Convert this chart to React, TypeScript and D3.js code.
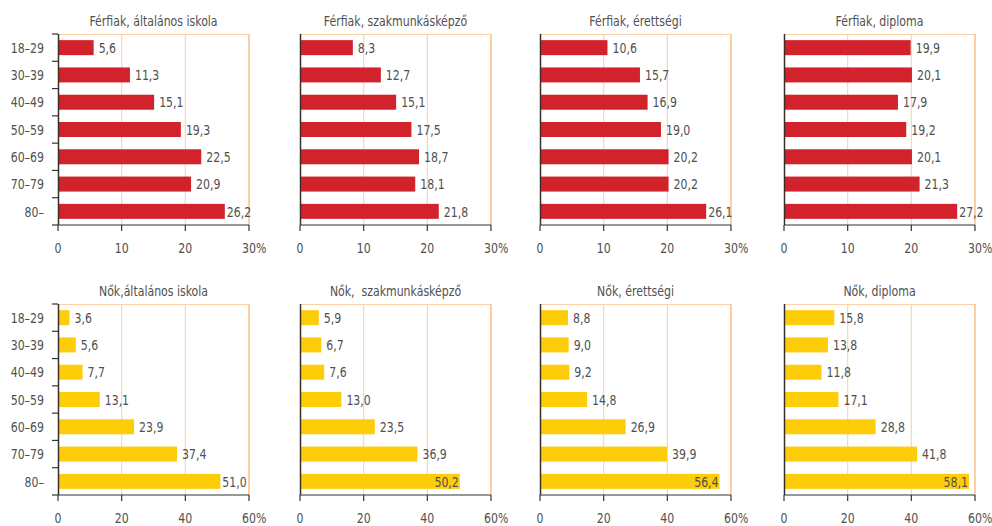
import React, { useEffect, useRef } from 'react';
import * as d3 from 'd3';

// Data
const ageGroups = ['18–29', '30–39', '40–49', '50–59', '60–69', '70–79', '80–'];

const titles = [
  'Férfiak, általános iskola',
  'Férfiak, szakmunkásképző',
  'Férfiak, érettségi',
  'Férfiak, diploma',
  'Nők,általános iskola',
  'Nők,  szakmunkásképző',
  'Nők, érettségi',
  'Nők, diploma'
];

const menPrimary = [5.6, 11.3, 15.1, 19.3, 22.5, 20.9, 26.2];
const menVocational = [8.3, 12.7, 15.1, 17.5, 18.7, 18.1, 21.8];
const menSecondary = [10.6, 15.7, 16.9, 19.0, 20.2, 20.2, 26.1];
const menDiploma = [19.9, 20.1, 17.9, 19.2, 20.1, 21.3, 27.2];
const womenPrimary = [3.6, 5.6, 7.7, 13.1, 23.9, 37.4, 51.0];
const womenVocational = [5.9, 6.7, 7.6, 13.0, 23.5, 36.9, 50.2];
const womenSecondary = [8.8, 9.0, 9.2, 14.8, 26.9, 39.9, 56.4];
const womenDiploma = [15.8, 13.8, 11.8, 17.1, 28.8, 41.8, 58.1];

const menTicks = [0, 10, 20, 30];
const womenTicks = [0, 20, 40, 60];

// value labels drawn inside the bar end: [panel, row]
const insideLabels = [[5, 6], [6, 6], [7, 6]];

const series = [
  menPrimary, menVocational, menSecondary, menDiploma,
  womenPrimary, womenVocational, womenSecondary, womenDiploma
];

const FONT = "'DejaVu Sans Condensed', 'DejaVu Sans', sans-serif";
const TEXT = '#505050';
const SQUEEZE = 0.84; // the original font is narrower than anything installed

const App = () => {
  const chartRef = useRef<SVGSVGElement>(null);

  useEffect(() => {
    const svg = d3.select(chartRef.current);
    svg.selectAll('*').remove();

    const panelX = [58, 300, 540, 784];
    const panelY = [34, 304];
    const width = 191;
    const height = 191;

    const fmt = (v: number) => v.toFixed(1).replace('.', ',');
    const at = (x: number, y: number) => `translate(${x},${y}) scale(${SQUEEZE},1)`;

    series.forEach((values, p) => {
      const row = p < 4 ? 0 : 1;
      const col = p % 4;
      const ticks = row === 0 ? menTicks : womenTicks;
      const color = row === 0 ? '#d2232c' : '#fecd0a';

      const g = svg.append('g')
        .attr('transform', `translate(${panelX[col]},${panelY[row]})`);

      const x = d3.scaleLinear()
        .domain([0, ticks[ticks.length - 1]])
        .range([0, width]);

      const y = d3.scaleBand()
        .domain(ageGroups)
        .range([0, height])
        .paddingInner(0.45)
        .paddingOuter(0.225);

      // grid lines
      g.selectAll('.grid')
        .data(ticks.slice(1, -1))
        .enter()
        .append('line')
        .attr('x1', d => x(d))
        .attr('x2', d => x(d))
        .attr('y1', 0)
        .attr('y2', height)
        .attr('stroke', '#fcd6b2')
        .attr('stroke-width', 1.2);

      // frame top and right
      g.append('line')
        .attr('x1', 0).attr('x2', width)
        .attr('y1', 0.5).attr('y2', 0.5)
        .attr('stroke', '#fcd0a8')
        .attr('stroke-width', 1.2);
      g.append('line')
        .attr('x1', width).attr('x2', width)
        .attr('y1', 0).attr('y2', height)
        .attr('stroke', '#fbc28c')
        .attr('stroke-width', 1.6);

      // bars
      g.selectAll('.bar')
        .data(values)
        .enter()
        .append('rect')
        .attr('x', 0)
        .attr('y', (d, i) => y(ageGroups[i]) as number)
        .attr('width', d => x(d))
        .attr('height', y.bandwidth())
        .attr('fill', color);

      // value labels
      const isInside = (i: number) => insideLabels.some(l => l[0] === p && l[1] === i);
      g.selectAll('.val')
        .data(values)
        .enter()
        .append('text')
        .attr('transform', (d, i) => {
          const lx = isInside(i) ? x(d) - 1 : x(d) + (d / x.domain()[1] > 0.84 ? 2 : 5);
          return at(lx, (y(ageGroups[i]) as number) + y.bandwidth() / 2);
        })
        .attr('dy', '0.36em')
        .attr('text-anchor', (d, i) => (isInside(i) ? 'end' : 'start'))
        .attr('font-family', FONT)
        .attr('font-size', '14.5px')
        .attr('fill', TEXT)
        .text(d => fmt(d));

      // left axis line
      g.append('line')
        .attr('x1', 0.5).attr('x2', 0.5)
        .attr('y1', 0).attr('y2', height)
        .attr('stroke', '#3a2e28')
        .attr('stroke-width', 1.5);

      // category axis (first column only)
      if (col === 0) {
        const bounds = d3.range(ageGroups.length + 1).map(i => (height / ageGroups.length) * i);
        g.selectAll('.ytick')
          .data(bounds)
          .enter()
          .append('line')
          .attr('x1', -6).attr('x2', 0)
          .attr('y1', d => d).attr('y2', d => d)
          .attr('stroke', '#333')
          .attr('stroke-width', 1.2);

        g.selectAll('.ylab')
          .data(ageGroups)
          .enter()
          .append('text')
          .attr('transform', d => at(-14, (y(d) as number) + y.bandwidth() / 2))
          .attr('dy', '0.36em')
          .attr('text-anchor', 'end')
          .attr('font-family', FONT)
          .attr('font-size', '14.5px')
          .attr('fill', TEXT)
          .text(d => d);
      }

      // bottom axis
      g.append('line')
        .attr('x1', 0).attr('x2', width)
        .attr('y1', height).attr('y2', height)
        .attr('stroke', '#333')
        .attr('stroke-width', 1.2);

      g.selectAll('.xtick')
        .data(ticks)
        .enter()
        .append('line')
        .attr('x1', d => x(d)).attr('x2', d => x(d))
        .attr('y1', height).attr('y2', height + 6)
        .attr('stroke', '#333')
        .attr('stroke-width', 1.2);

      g.selectAll('.xlab')
        .data(ticks)
        .enter()
        .append('text')
        .attr('transform', d => at(x(d), height + 28))
        .attr('text-anchor', 'middle')
        .attr('font-family', FONT)
        .attr('font-size', '14.5px')
        .attr('fill', TEXT)
        .text(d => String(d));

      // percent sign after last tick
      const last = ticks[ticks.length - 1];
      g.append('text')
        .attr('transform', at(x(last) + 7, height + 28))
        .attr('font-family', FONT)
        .attr('font-size', '14.5px')
        .attr('fill', TEXT)
        .text('%');

      // title
      g.append('text')
        .attr('transform', at(width / 2, -8))
        .attr('text-anchor', 'middle')
        .attr('font-family', FONT)
        .attr('font-size', '14.5px')
        .attr('fill', TEXT)
        .style('white-space', 'pre')
        .text(titles[p]);
    });
  }, []);

  return (
    <svg
      ref={chartRef}
      width={992}
      height={526}
      style={{ position: 'absolute', left: 0, top: 0, background: '#fff' }}
    />
  );
};

export default App;
